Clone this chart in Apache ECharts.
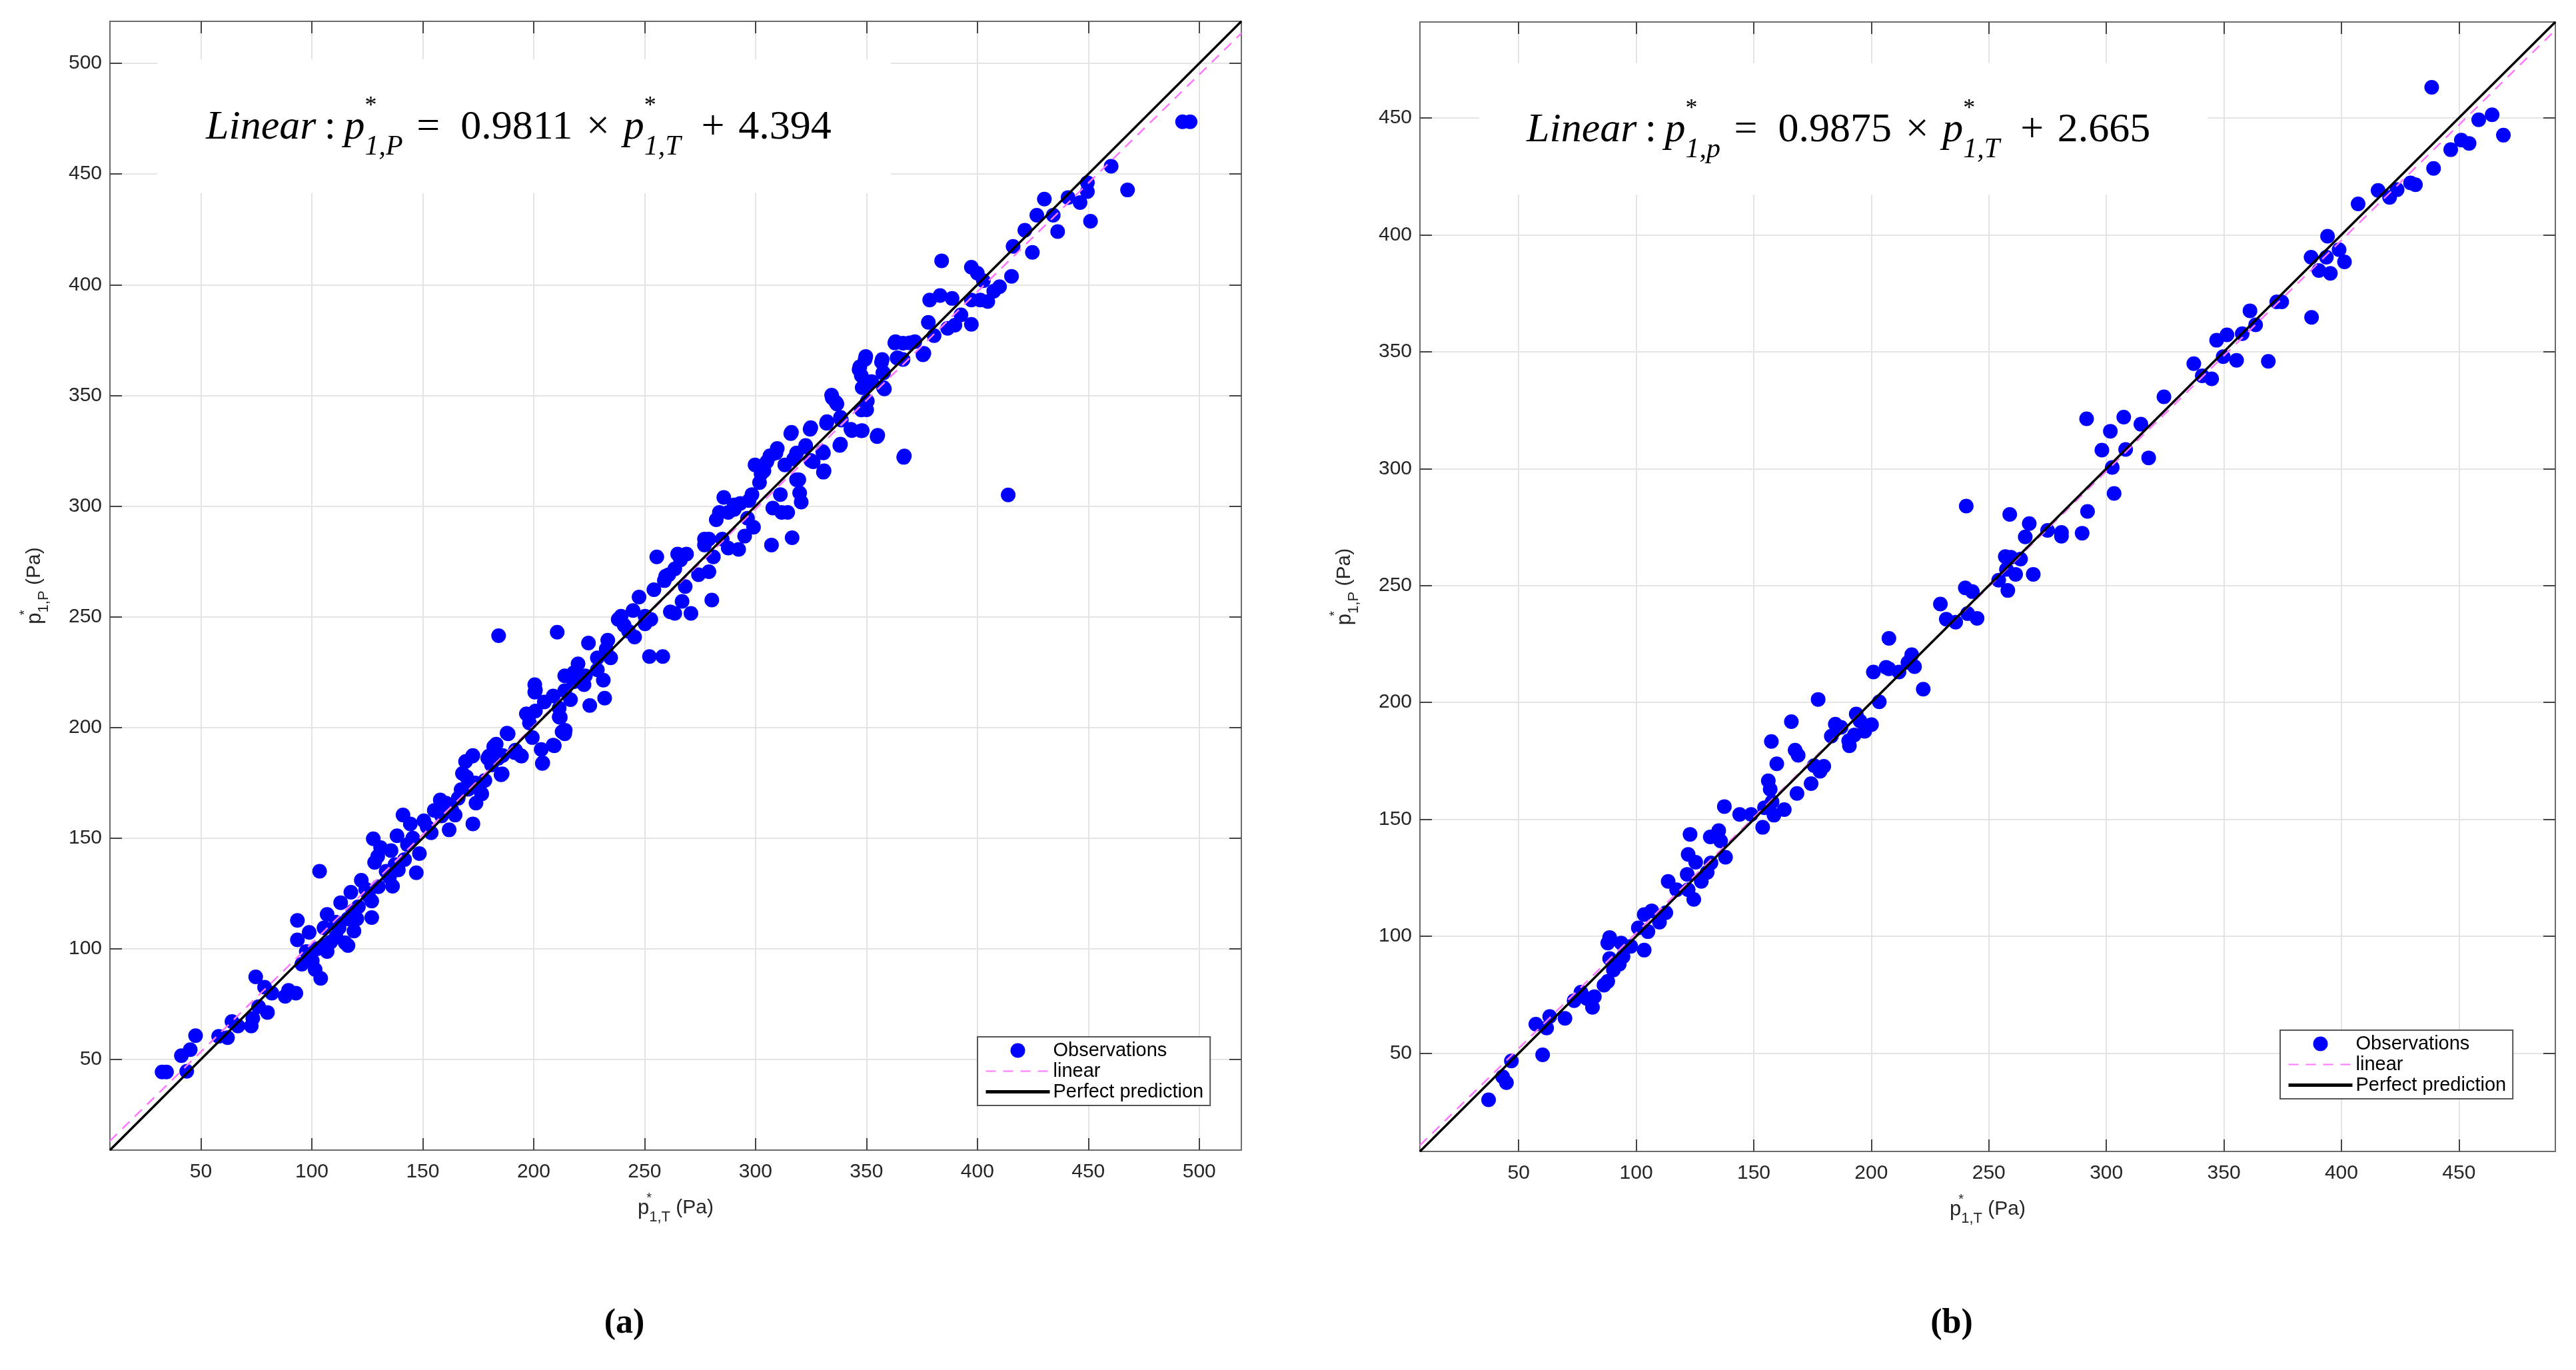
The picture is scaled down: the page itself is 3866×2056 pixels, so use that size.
<!DOCTYPE html>
<html>
<head>
<meta charset="utf-8">
<script src="https://cdn.jsdelivr.net/npm/echarts@6/dist/echarts.min.js"></script>
<style>
  html, body { margin: 0; padding: 0; background: #fff; }
  #chart { width: 3866px; height: 2056px; }
</style>
</head>
<body>
<div id="chart"></div>
<script>
// tick values of both panels
const ticksA = [50, 100, 150, 200, 250, 300, 350, 400, 450, 500]
const ticksB = [50, 100, 150, 200, 250, 300, 350, 400, 450]

// panel (a): [p*1,T , p*1,P] observations
const obsA = [
  [32.5,44.3],[34.5,44.3],[43.6,44.6],[41.2,51.7],[45.2,54.4],[47.6,60.7],[58,60.4],[62,59.8],[64,67.1],[66.7,65.1],
  [72.7,65.1],[73.4,68.5],[74.7,87.3],[76,73.8],[78.7,82.6],[80,71.2],[82,79.9],[88,78.5],[89.5,81.2],[92.8,79.9],
  [93.5,104],[93.5,112.8],[98.8,107.4],[97.5,98.7],[100.2,94.6],[101.5,90.6],[103.5,135],[104,86.6],[105.5,101.4],[106.9,98.7],
  [105.5,109.4],[106.9,115.5],[110.9,105.4],[112.3,109.4],[113,120.8],[115,102.7],[116.3,113.5],[116.3,101.4],[117.6,125.5],[119,108],
  [120.3,113.5],[122.3,130.9],[124.3,126.9],[127,121.5],[127,114.1],[127.7,149.7],[128.3,139],[129.7,141.7],[131,145.7],[135,132.3],
  [135.7,144.3],[136.4,128.2],[138.4,151],[139,135.6],[141.8,140.3],[141.1,160.4],[143.1,147],[144.4,156.4],[147.1,134.3],[148.5,143],
  [150.5,157.8],[153.8,152.4],[155.2,162.5],[157.9,167.2],[160.5,165.8],[161.9,153.7],[164.6,160.4],[167.3,171.9],[167.9,179.2],[169.3,184.6],
  [172.6,187.3],[172.6,156.4],[174,165.8],[176.6,169.9],[179.3,186],[182,191.3],[185.3,178.6],[186,187.3],[188,197.4],[191.4,188.6],
  [194.1,187.3],[196.7,206.1],[198.1,202],[199.4,195.4],[200.8,207.4],[200.8,216.8],[203.4,190],[204.1,184],[204.8,211.5],[208.8,214.2],
  [208.8,192],[211.5,204.7],[212.8,198],[214.2,198.7],[211.5,208.7],
  [172.4,187],[179.8,187],[183.1,192.4],[188.5,197.1],[191.8,189.7],[185.8,179],[194.5,187],[197.9,205.2],[173.7,174.9],[169.7,177.7],[176.4,170.3],
  [95.5,93],[99,96],[102.5,100],[108.5,103],[111,112],[118.5,117],[121,119],[125.5,124],[130,128],[133.5,135],
  [137.5,138],[145.5,150],[152,155],[158.5,160],[163,163],[166,168],[170.5,172],[178,176],[181,183],[184,186],
  [184.2,241.4],[210.6,243],[200.5,219.3],[200.5,215.9],[203.9,183.7],[209.3,191.7],[212,204.5],[214,197.1],[214,223.3],[216.6,212.5],
  [218,224.6],[220,228.7],[222.7,219.3],[224.7,238.1],[225.3,209.9],[228.7,226],[231.4,221.3],[232,213.2],[233.4,239.4],[234.7,231.4],
  [239.4,250.2],[240.8,246.1],[242.8,243.4],[245.5,240.8],[247.5,258.9],[250.2,250.2],[252.2,232],[254.2,262.2],[255.5,277],[258.2,232],
  [258.9,266.3],[260.9,269],[261.6,252.2],[263.6,251.5],[264.9,278.3],[266.9,256.9],[268.3,263.6],[268.9,278.3],[270.9,251.5],[274.3,269],
  [277,282.4],[279,270.3],[280.3,257.5],[281,277],[282.3,293.8],[285,285.1],[285.7,303.9],[287.7,281],[290.4,298.5],[292.4,280.4],
  [295.1,286.4],[296.4,294.5],[298.4,305.2],[299.1,290.4],[299.8,318.6],[301.8,310.6],[303.8,315.9],[306.5,322.7],[307.2,282.4],[307.8,299.1],
  [309.8,326],[311.2,305.2],[311.8,297.1],[314.5,297.1],[315.9,332.7],[316.5,285.7],[317.2,321.3],[318.5,311.9],[319.9,305.9],[320.6,301.8],
  [322.6,327.4],[324.6,334.7],[326,320],[330.6,315.3],[330.6,324],[332,337.4],[334.6,348.8],[336.7,346.1],[338,327.4],[338.7,338.8],
  [343.4,334.1],[348.1,334.1],[346.7,361.6],[348.1,353.5],[349.4,366.3],[350.1,343.5],[352.1,356.2],[354.8,331.4],[356.8,365],[357.4,360.2],
  [358.1,352.9],[362.8,373.7],[364.1,367],[366.8,322],[369.5,373.7],[375.5,368.3],
  [238.1,248.8],[244.8,252.8],[250.2,246.8],[252.8,248.8],[259.5,268.3],[263.6,271.6],[266.2,275.7],[277,285.1],[279,285.1],[283.7,297.1],
  [287.7,297.1],[290.4,300.5],[293.1,301.2],[297.1,302.5],[302.5,314.6],[305.1,320],[309.2,324],[313.2,318.6],[318.5,324],[322.6,326.7],
  [214,216.6],[218,220.6],[223.3,223.3],[228.7,231.4],[232.7,235.4],
  [492.5,473.6],[495.9,473.6],[460.3,453.5],[467.7,442.8],[449.6,446.1],[449.6,442.1],[446.3,437.1],[451,428.7],[440.9,439.4],[430.2,438.7],
  [434.2,431.4],[426.8,431.4],[436.2,424],[421.4,424.6],[424.8,414.6],[416.1,417.3],[415.4,403.8],[383.9,410.8],[397.3,407.9],[400,405.2],
  [402.7,401.8],[410,399.1],[407.4,397.1],[397.3,393.1],[401.3,393.1],[404.7,392.4],[378.5,393.1],[383.2,395.1],[388.6,393.8],[397.3,382.1],
  [392.6,386.4],[389.9,381.7],[386.6,380.3],[380.5,377],[377.9,383],[363.1,374.3],[366.5,373.6],[371.8,374.3],[375.9,369],[363.8,366.9],
  [366.5,366.2],[349.7,367.6],[357.1,366.2],[347,362.9],[347.7,358.9],[357.7,360.2],[349,354.2],[352.4,356.2],[357.7,353.5],[334.3,350.1],
  [336.3,346.8],[347.7,343.4],[350.4,347.4],[338.3,340.1],[332.2,338.1],[324.9,335.4],[316.2,333.3],[343,334.7],[347.7,334],[355.1,332],
  [338.3,328],[330.3,324.6],[330.9,315.9],[324.9,320.6],[367.1,322.6],[319.5,311.9],[413.9,305]
]
const linearA = [[9, 13.2], [519, 513.6]]
const perfectA = [[9, 9], [519, 519]]

// panel (b)
const obsB = [
  [37.2,30.1],[43.2,39.9],[44.8,37.4],[46.9,46.7],[60.2,49.3],[57.3,62.4],[61.9,60.8],[63.2,65.7],[69.7,64.9],[73.6,72.5],
  [76.5,76.1],[79,73.4],[81.4,69.6],[82.2,74.2],[86.3,79.1],[87.9,80.7],[88.7,90.5],[87.9,97.1],[88.7,99.5],[90.3,85.6],
  [92.8,88.1],[93.6,97.1],[94.4,91.3],[97.7,95.7],[103.4,94.1],[100.9,103.6],[103.4,109.3],[105,102],[106.6,110.9],[109.9,106],
  [112.6,110.1],[113.6,123.5],[117.2,119.9],[122.1,119.9],[121.7,126.5],[122.1,135],[122.9,143.6],[124.5,115.8],[125.3,131.7],[127.7,123.5],
  [130.2,127.3],[131.8,131.4],[131.5,142.5],[135.1,145.2],[135.9,140.8],[138,133.8],[137.5,155.5],[144,152.1],[148.9,152.1],[153.8,146.6],
  [154.6,155],[156.2,166.5],[157,162.9],[157.5,183.3],[158.6,151.8],[157.8,157.5],[159.8,173.8],[163,154.2],[166,191.8],[167.6,179.6],
  [168.9,177.4],[168.4,161.1],[174.4,165.3],[175.7,173],[177.4,201.3],[178.2,170.6],[179.8,172.7],[183,185.6],[184.7,190.7],[187.1,189.4],
  [190.4,183.6],[190.7,181.5],[192.8,186.1],[193.6,195.1],[195.2,192.1],[197.2,187.7],[200.1,190.5],[200.9,213],[203.4,200.3],[206.3,215],
  [207.5,227.4],[207.5,214.4],[211.8,213],[215.6,217.1],[217.2,220.4],[218.4,215.3],[222.1,205.7],[229.4,242.1],[231.9,235.6],[235.9,234.3],
  [241,238],[245,236],[240,249],[240.4,284],
  [438.4,463.1],[458.4,449.2],[464.1,451.3],[468.9,442.6],[451,440.5],[454.3,439.1],[446.5,436.4],[439.2,428.4],[429.4,422.2],[431.5,421.4],
  [423.7,419.3],[420.5,416],[415.6,419],[407.1,413.2],[394.1,399.4],[399,393.6],[387.1,390.4],[393.6,390.4],[401.3,388.4],[390.4,384.7],
  [395.3,383.5],[387.3,364.7],[372.5,371.3],[374.6,371.3],[361.1,367.5],[363.5,361.5],[357.8,357.7],[351.3,357.2],[346.9,354.9],[349.7,347.9],
  [355.4,346.3],[368.9,345.9],[337.2,344.9],[340.8,339.7],[344.8,338.4],[324.5,330.7],[291.6,321.3],[301.7,316],[307.4,322],[314.7,319],
  [298.1,307.9],[308.2,308.2],[318,304.6],[302.5,300.5],[303.3,289.4],[292,281.7],[289.7,272.4],[280.9,272.7],[280.9,271.1],[275,273.6],
  [267.2,276.5],[265.5,270.8],[258.9,280.4],[257,262.4],[259.4,262.1],[263.5,261.3],[257.5,256.9],[261.4,254.8],[268.9,254.8],[258.1,247.9],
  [254.2,252.3],[243,247.4]
]
const linearB = [[8, 10.6], [491, 487.5]]
const perfectB = [[8, 8], [491, 491]]

const chart = echarts.init(document.getElementById('chart'))

const sans = 'Liberation Sans'
const serif = 'Liberation Serif'
const gridColor = '#e4e4e4'
const boxColor = '#6b6b6b'

// axis title with p*_{..} built from rich text
const nameRich = {
  p: { fontFamily: sans, fontSize: 31, lineHeight: 50, color: '#262626' },
  s: { fontFamily: sans, fontSize: 20, lineHeight: 36, verticalAlign: 'top', width: 0, color: '#262626' },
  b: { fontFamily: sans, fontSize: 22, lineHeight: 30, verticalAlign: 'bottom', color: '#262626' },
  u: { fontFamily: sans, fontSize: 30, lineHeight: 50, color: '#262626' }
}

const eqRich = {
  it: { fontFamily: serif, fontStyle: 'italic', fontWeight: 'normal', fontSize: 62, lineHeight: 100, color: '#000' },
  rm: { fontFamily: serif, fontWeight: 'normal', fontSize: 62, lineHeight: 100, color: '#000' },
  sup: { fontFamily: serif, fontWeight: 'normal', fontSize: 36, lineHeight: 72, verticalAlign: 'top', width: 0, color: '#000' },
  sub: { fontFamily: serif, fontStyle: 'italic', fontWeight: 'normal', fontSize: 42, lineHeight: 58, verticalAlign: 'bottom', color: '#000' }
}

function mainAxis(grid, min, max, ticks, pos, name, gap) {
  return {
    type: 'value', gridIndex: grid, min: min, max: max, position: pos,
    name: name, nameLocation: 'middle', nameGap: gap,
    nameTextStyle: { rich: nameRich },
    axisLine: { onZero: false, lineStyle: { color: boxColor, width: 2 } },
    axisTick: { inside: true, length: 18, customValues: ticks, lineStyle: { color: '#444', width: 2 } },
    axisLabel: { customValues: ticks, margin: pos === 'bottom' ? 18 : 12, fontFamily: sans, fontSize: 30, color: '#262626' },
    splitLine: { show: true, lineStyle: { color: gridColor, width: 2 } }
  }
}
function boxAxis(grid, min, max, ticks, pos) {
  return {
    type: 'value', gridIndex: grid, min: min, max: max, position: pos,
    axisLine: { onZero: false, lineStyle: { color: boxColor, width: 2 } },
    axisTick: { inside: true, length: 18, customValues: ticks, lineStyle: { color: '#444', width: 2 } },
    axisLabel: { show: false },
    splitLine: { show: false }
  }
}

function seriesFor(ax, obs, lin, perf) {
  return [
    { name: 'Observations', type: 'scatter', xAxisIndex: ax, yAxisIndex: ax, data: obs,
      symbol: 'circle', symbolSize: 22, itemStyle: { color: '#0000ff', opacity: 1 }, z: 2 },
    { name: 'linear', type: 'line', xAxisIndex: ax, yAxisIndex: ax, data: lin, symbol: 'none',
      itemStyle: { color: '#ff77ff' }, lineStyle: { color: '#ff77ff', width: 2.5, type: [15, 11] }, z: 3 },
    { name: 'Perfect prediction', type: 'line', xAxisIndex: ax, yAxisIndex: ax, data: perf, symbol: 'none',
      itemStyle: { color: '#000' }, lineStyle: { color: '#000', width: 3.5 }, z: 4 }
  ]
}

function legendAt(left, top) {
  return {
    left: left, top: top, orient: 'vertical', selectedMode: false,
    data: [
      { name: 'Observations' },
      { name: 'linear', itemStyle: { opacity: 0 } },
      { name: 'Perfect prediction', itemStyle: { opacity: 0 }, lineStyle: { width: 5 } }
    ],
    itemWidth: 96, itemHeight: 22, itemGap: 2, padding: [6, 10, 6, 10],
    borderColor: '#555', borderWidth: 2, backgroundColor: '#fff',
    textStyle: { fontFamily: sans, fontSize: 29, color: '#000' }
  }
}

// spacing between the pieces of the fit equation
const sp = '\u2004'
const wide = '\u2002'

function equation(sub, slope, icpt) {
  return '{it|Linear}{rm|\u2009:\u2009}{it|p}{sup|*}{sub|' + sub + '}{rm|' + sp + '=' + wide + slope + sp + '×' + sp +
    '}{it|p}{sup|*}{sub|1,T}{rm|' + wide + '+' + sp + icpt + '}'
}

const option = {
  backgroundColor: '#fff',
  animation: false,
  grid: [
    { left: 165, top: 32, width: 1698, height: 1694 },
    { left: 2131, top: 33, width: 1704, height: 1695 }
  ],
  xAxis: [
    mainAxis(0, 9, 519, ticksA, 'bottom', '{p|p}{s|*}{b|1,T}{u| (Pa)}', 62),
    boxAxis(0, 9, 519, ticksA, 'top'),
    mainAxis(1, 8, 491, ticksB, 'bottom', '{p|p}{s|*}{b|1,T}{u| (Pa)}', 62),
    boxAxis(1, 8, 491, ticksB, 'top')
  ],
  yAxis: [
    mainAxis(0, 9, 519, ticksA, 'left', '{p|p}{s|*}{b|1,P}{u| (Pa)}', 88),
    boxAxis(0, 9, 519, ticksA, 'right'),
    mainAxis(1, 8, 491, ticksB, 'left', '{p|p}{s|*}{b|1,P}{u| (Pa)}', 88),
    boxAxis(1, 8, 491, ticksB, 'right')
  ],
  legend: [legendAt(1467, 1556), legendAt(3422, 1546)],
  title: [
    { left: 309, top: 142, padding: 0, text: equation('1,P', '0.9811', '4.394'), textStyle: { rich: eqRich } },
    { left: 2291, top: 146, padding: 0, text: equation('1,p', '0.9875', '2.665'), textStyle: { rich: eqRich } }
  ],
  graphic: [
    { type: 'rect', shape: { x: 236, y: 89, width: 1101, height: 201 }, style: { fill: '#fff' }, z: 1, silent: true },
    { type: 'rect', shape: { x: 2220, y: 95, width: 1093, height: 197 }, style: { fill: '#fff' }, z: 1, silent: true },
    { type: 'text', x: 937, y: 1987, silent: true,
      style: { text: '(a)', font: 'bold 52px "Liberation Serif"', fill: '#000', align: 'center', verticalAlign: 'middle' } },
    { type: 'text', x: 2929, y: 1987, silent: true,
      style: { text: '(b)', font: 'bold 52px "Liberation Serif"', fill: '#000', align: 'center', verticalAlign: 'middle' } }
  ],
  series: [].concat(
    seriesFor(0, obsA, linearA, perfectA),
    seriesFor(2, obsB, linearB, perfectB)
  )
}

chart.setOption(option)
</script>
</body>
</html>
